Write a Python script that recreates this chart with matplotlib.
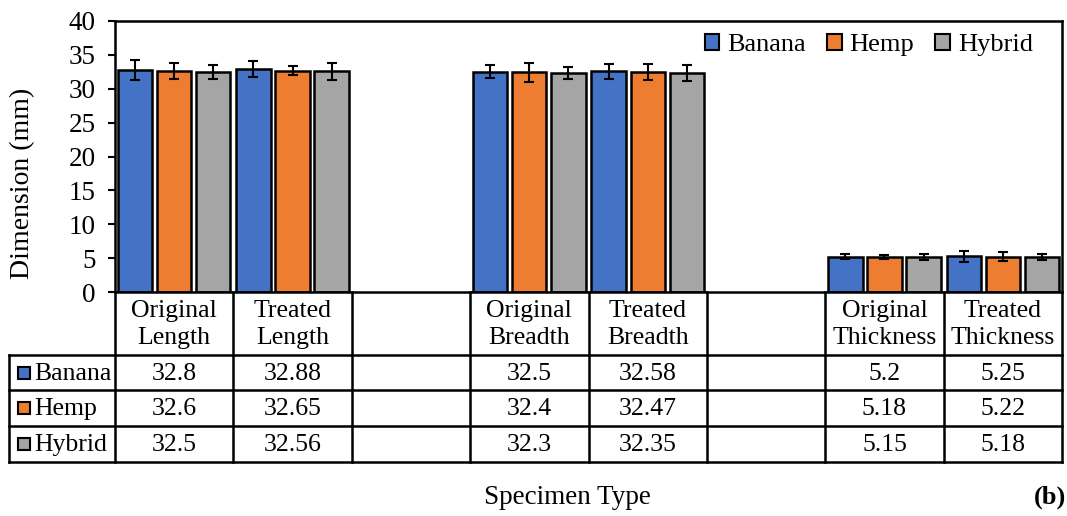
import numpy as np
import matplotlib
matplotlib.use("Agg")
import matplotlib.pyplot as plt
from matplotlib.patches import Patch, Rectangle

plt.rcParams["font.family"] = ["Liberation Serif", "DejaVu Serif"]
plt.rcParams["font.size"] = 18

# data (blank columns are the gaps between groups)
categories = ["Original\nLength", "Treated\nLength", "",
              "Original\nBreadth", "Treated\nBreadth", "",
              "Original\nThickness", "Treated\nThickness"]
series = ["Banana", "Hemp", "Hybrid"]
banana = [32.8, 32.88, np.nan, 32.5, 32.58, np.nan, 5.2, 5.25]
hemp = [32.6, 32.65, np.nan, 32.4, 32.47, np.nan, 5.18, 5.22]
hybrid = [32.5, 32.56, np.nan, 32.3, 32.35, np.nan, 5.15, 5.18]
banana_err = [1.5, 1.2, np.nan, 0.95, 1.1, np.nan, 0.35, 0.75]
hemp_err = [1.2, 0.65, np.nan, 1.4, 1.2, np.nan, 0.3, 0.65]
hybrid_err = [1.0, 1.2, np.nan, 0.9, 1.2, np.nan, 0.5, 0.45]
colors = ["#4472C4", "#ED7D31", "#A5A5A5"]

values = [banana, hemp, hybrid]
errors = [banana_err, hemp_err, hybrid_err]

W, H = 1067, 516
fig = plt.figure(figsize=(W / 100, H / 100), dpi=100)

# plot area in pixels
left, right, top, bottom = 115, 1062, 21, 292
ax = fig.add_axes([left / W, 1 - bottom / H, (right - left) / W, (bottom - top) / H])

n = len(categories)
x = np.arange(n)
offsets = [-0.33, 0.0, 0.33]
for vals, errs, off, col in zip(values, errors, offsets, colors):
    ax.bar(x + off, vals, width=0.29, color=col, edgecolor="black", linewidth=1.8, zorder=2)
    ax.errorbar(x + off, vals, yerr=errs, fmt="none", ecolor="black",
                elinewidth=1.5, capsize=3.5, capthick=1.5, zorder=3)

ax.set_xlim(-0.5, n - 0.5)
ax.set_ylim(0, 40)
ax.set_yticks(np.arange(0, 41, 5))
ax.set_xticks([])
ax.tick_params(axis="y", direction="out", length=5, width=1.5, pad=9, labelsize=19.5)
for s in ax.spines.values():
    s.set_linewidth(1.8)

handles = [Patch(facecolor=c, edgecolor="black", linewidth=1.5) for c in colors]
ax.legend(handles, series, loc="center right", ncol=3, frameon=False,
          bbox_to_anchor=(1046 / W, 1 - 45 / H), bbox_transform=fig.transFigure,
          handlelength=0.55, handleheight=0.55, handletextpad=0.3, columnspacing=0.8,
          borderpad=0, fontsize=19)

# data table below the axis, drawn in pixel coordinates
tab = fig.add_axes([0, 0, 1, 1])
tab.set_xlim(0, W)
tab.set_ylim(H, 0)
tab.axis("off")

cw = (right - left) / n
row_y = [bottom, 355, 390, 426, 462]
lw = 1.8
# header row
for i in range(n + 1):
    tab.plot([left + i * cw] * 2, [bottom, row_y[-1]], color="black", lw=lw)
for i, cat in enumerate(categories):
    tab.text(left + (i + 0.5) * cw, (row_y[0] + row_y[1]) / 2 + 1, cat,
             ha="center", va="center", linespacing=1.3, fontsize=18.5)
# data rows
for yy in row_y[1:]:
    tab.plot([9, right], [yy, yy], color="black", lw=lw)
tab.plot([9, 9], [row_y[1], row_y[-1]], color="black", lw=lw)
for r, (name, vals, col) in enumerate(zip(series, values, colors)):
    yc = (row_y[r + 1] + row_y[r + 2]) / 2
    tab.add_patch(Rectangle((18, yc - 6), 12, 12, facecolor=col, edgecolor="black", lw=1.5))
    tab.text(34, yc + 1, name, ha="left", va="center", fontsize=18.5)
    for i, v in enumerate(vals):
        if not np.isnan(v):
            tab.text(left + (i + 0.5) * cw, yc + 1, f"{v:g}", ha="center", va="center", fontsize=18.5)

fig.text(23 / W, 1 - 183 / H, "Dimension (mm)", ha="center", va="center", rotation=90, fontsize=20)
fig.text(567 / W, 1 - 497 / H, "Specimen Type", ha="center", va="center", fontsize=19.5)
fig.text(1050 / W, 1 - 497 / H, "(b)", ha="center", va="center", fontsize=19, fontweight="bold")

fig.savefig("out.png", dpi=100)
